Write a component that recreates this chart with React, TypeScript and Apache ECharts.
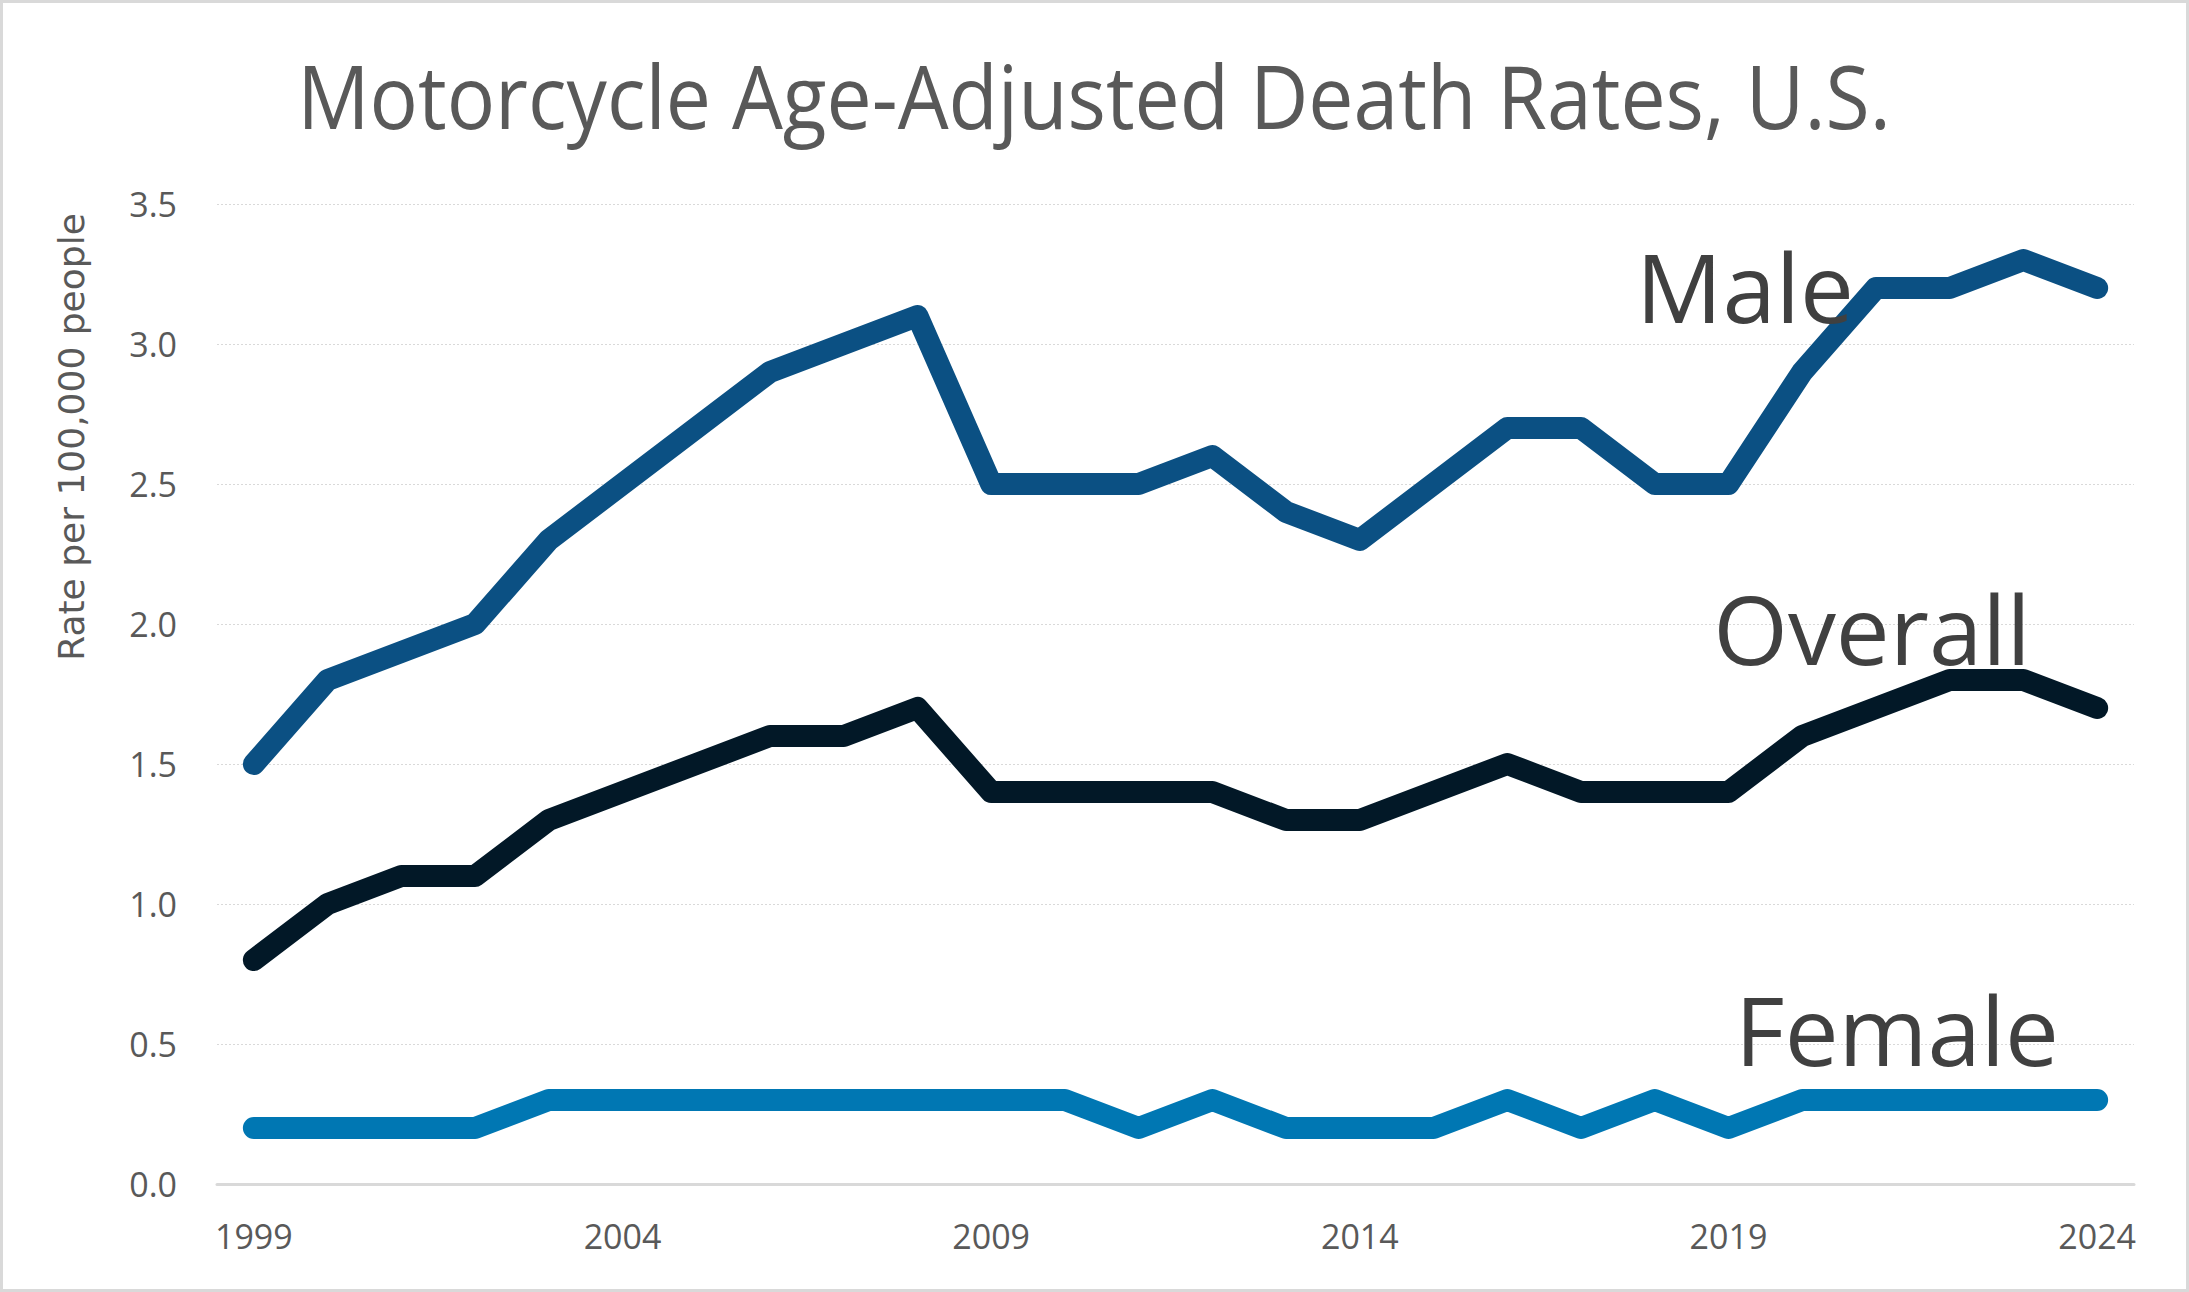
import React, { useEffect, useRef } from "react";
import * as echarts from "echarts";

const years = [
  "1999", "2000", "2001", "2002", "2003", "2004", "2005", "2006", "2007", "2008",
  "2009", "2010", "2011", "2012", "2013", "2014", "2015", "2016", "2017", "2018",
  "2019", "2020", "2021", "2022", "2023", "2024",
];
const male = [1.5, 1.8, 1.9, 2.0, 2.3, 2.5, 2.7, 2.9, 3.0, 3.1, 2.5, 2.5, 2.5, 2.6, 2.4, 2.3, 2.5, 2.7, 2.7, 2.5, 2.5, 2.9, 3.2, 3.2, 3.3, 3.2];
const overall = [0.8, 1.0, 1.1, 1.1, 1.3, 1.4, 1.5, 1.6, 1.6, 1.7, 1.4, 1.4, 1.4, 1.4, 1.3, 1.3, 1.4, 1.5, 1.4, 1.4, 1.4, 1.6, 1.7, 1.8, 1.8, 1.7];
const female = [0.2, 0.2, 0.2, 0.2, 0.3, 0.3, 0.3, 0.3, 0.3, 0.3, 0.3, 0.3, 0.2, 0.3, 0.2, 0.2, 0.2, 0.3, 0.2, 0.3, 0.2, 0.3, 0.3, 0.3, 0.3, 0.3];
const titleText = "Motorcycle Age-Adjusted Death Rates, U.S.";
const yAxisTitle = "Rate per 100,000 people";
const seriesNames = ["Male", "Overall", "Female"];

const FONT = "'Open Sans', 'Noto Sans', sans-serif";

export default function App() {
  const ref = useRef<HTMLDivElement>(null);
  useEffect(() => {
    if (!ref.current) return;
    const chart = echarts.init(ref.current, undefined, { renderer: "svg" });
    const lineStyle = (color: string) => ({
      color,
      width: 22,
      cap: "round" as const,
      join: "round" as const,
    });
    chart.setOption({
      animation: false,
      backgroundColor: "#ffffff",
      grid: { left: 217, right: 55, top: 204, bottom: 108, containLabel: false },
      xAxis: {
        type: "category",
        data: years,
        boundaryGap: true,
        axisLine: { show: true, lineStyle: { color: "#d9d9d9", width: 3 } },
        axisTick: { show: false },
        axisLabel: {
          interval: 4,
          color: "#595959",
          fontFamily: FONT,
          fontSize: 34,
          margin: 35,
        },
        splitLine: { show: false },
      },
      yAxis: {
        type: "value",
        min: 0,
        max: 3.5,
        interval: 0.5,
        axisLine: { show: false },
        axisTick: { show: false },
        axisLabel: {
          color: "#595959",
          fontFamily: FONT,
          fontSize: 34,
          margin: 40,
          formatter: (v: number) => v.toFixed(1),
        },
        splitLine: { show: true, lineStyle: { color: "#d9d9d9", width: 1, type: [2, 2] } },
      },
      series: [
        { name: seriesNames[0], type: "line", data: male, showSymbol: false, lineStyle: lineStyle("#0b5083"), z: 3 },
        { name: seriesNames[1], type: "line", data: overall, showSymbol: false, lineStyle: lineStyle("#021827"), z: 3 },
        { name: seriesNames[2], type: "line", data: female, showSymbol: false, lineStyle: lineStyle("#0077b3"), z: 3 },
      ],
      graphic: [
        {
          type: "rect",
          shape: { x: 1.5, y: 1.5, width: 2186, height: 1289 },
          style: { fill: "none", stroke: "#d9d9d9", lineWidth: 3 },
          silent: true,
          z: 0,
        },
        {
          type: "text",
          x: 1094,
          y: 95,
          scaleX: 0.915,
          style: {
            text: titleText,
            fill: "#595959",
            font: `88px ${FONT}`,
            align: "center",
            verticalAlign: "middle",
          },
          z: 10,
        },
        {
          type: "text",
          x: 71,
          y: 437,
          rotation: Math.PI / 2,
          style: {
            text: yAxisTitle,
            fill: "#595959",
            font: `36px 'DejaVu Sans', sans-serif`,
            align: "center",
            verticalAlign: "middle",
          },
          z: 10,
        },
        {
          type: "text",
          x: 1745,
          y: 285,
          style: { text: seriesNames[0], fill: "#404040", font: `96px ${FONT}`, align: "center", verticalAlign: "middle" },
          z: 10,
        },
        {
          type: "text",
          x: 1872,
          y: 627,
          style: { text: seriesNames[1], fill: "#404040", font: `96px ${FONT}`, align: "center", verticalAlign: "middle" },
          z: 10,
        },
        {
          type: "text",
          x: 1897,
          y: 1028,
          style: { text: seriesNames[2], fill: "#404040", font: `96px ${FONT}`, align: "center", verticalAlign: "middle" },
          z: 10,
        },
      ],
    });
    return () => chart.dispose();
  }, []);
  return (
    <div
      ref={ref}
      style={{ position: "absolute", left: 0, top: 0, width: 2189, height: 1292 }}
    />
  );
}
